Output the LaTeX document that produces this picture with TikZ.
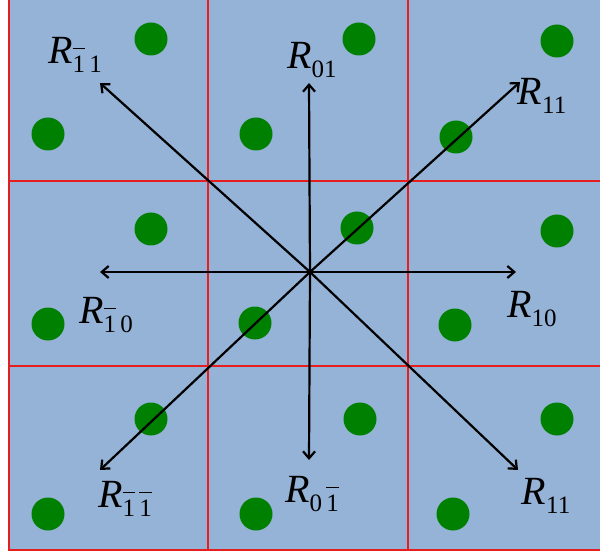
\documentclass[tikz,border=0pt]{standalone}
\usepackage{fontspec}
\setmainfont{Liberation Serif}
\usetikzlibrary{arrows.meta}
\definecolor{bgblue}{RGB}{149,179,215}
\definecolor{dotgreen}{RGB}{0,128,0}
\definecolor{gridred}{RGB}{230,30,30}
\newcommand\ob[1]{\leavevmode\rlap{\raisebox{0.95em}{\rule{0.5em}{1.1pt}}}#1}
\newcommand\lbl[1]{{\fontsize{40}{42}\selectfont\textit{R}}\raisebox{-9pt}{\fontsize{25}{27}\selectfont #1}}
\begin{document}
\begin{tikzpicture}[x=1pt,y=-1pt,
  gridline/.style={draw=gridred,line width=1.3pt},
  vec/.style={draw=black,line width=2.2pt,-{Straight Barb[length=7pt,width=12pt,line width=2.2pt]}},
  dot/.style={fill=dotgreen},
  rlabel/.style={inner sep=0pt,text=black}]
\useasboundingbox (0,0) rectangle (600,556);
\fill[bgblue] (9,0) rectangle (600,550);
% grid
\draw[gridline] (9,0) -- (9,550) -- (600,550);
\draw[gridline] (208,0) -- (208,550);
\draw[gridline] (408,0) -- (408,550);
\draw[gridline] (9,181) -- (600,181);
\draw[gridline] (9,366) -- (600,366);
% dots
\foreach \x/\y in {151/39,359/39,557/41,48/134,256/134,456/137,
                   151/229,357/228,557/231,48/324,255/323,455/325,
                   151/419,360/419,557/419,48/514,256/514,453/514}
  \fill[dot] (\x,\y) circle (16.5);
% arrows
\coordinate (c) at (310,272);
\coordinate (tnw) at (100,83);
\coordinate (tn) at (309,83);
\coordinate (tne) at (520,82);
\coordinate (tw) at (100,272);
\coordinate (te) at (516,272);
\coordinate (tsw) at (100,470);
\coordinate (ts) at (309,460);
\coordinate (tse) at (518,470);
\foreach \t in {tnw,tn,tne,tw,te,tsw,ts,tse}
  \draw[vec] (c) -- (\t);
% labels
\node[rlabel] (lnw) at (75,55) {\lbl{\ob{1}\,1}};
\node[rlabel] (ln) at (312,60) {\lbl{01}};
\node[rlabel] (lne) at (542,96) {\lbl{11}};
\node[rlabel] (lw) at (106,315) {\lbl{\ob{1}\,0}};
\node[rlabel] (le) at (532,309) {\lbl{10}};
\node[rlabel] (lsw) at (125,499) {\lbl{\ob{1}\,\ob{1}}};
\node[rlabel] (ls) at (312,494) {\lbl{0\,\ob{1}}};
\node[rlabel] (lse) at (546,496) {\lbl{11}};
\end{tikzpicture}
\end{document}
